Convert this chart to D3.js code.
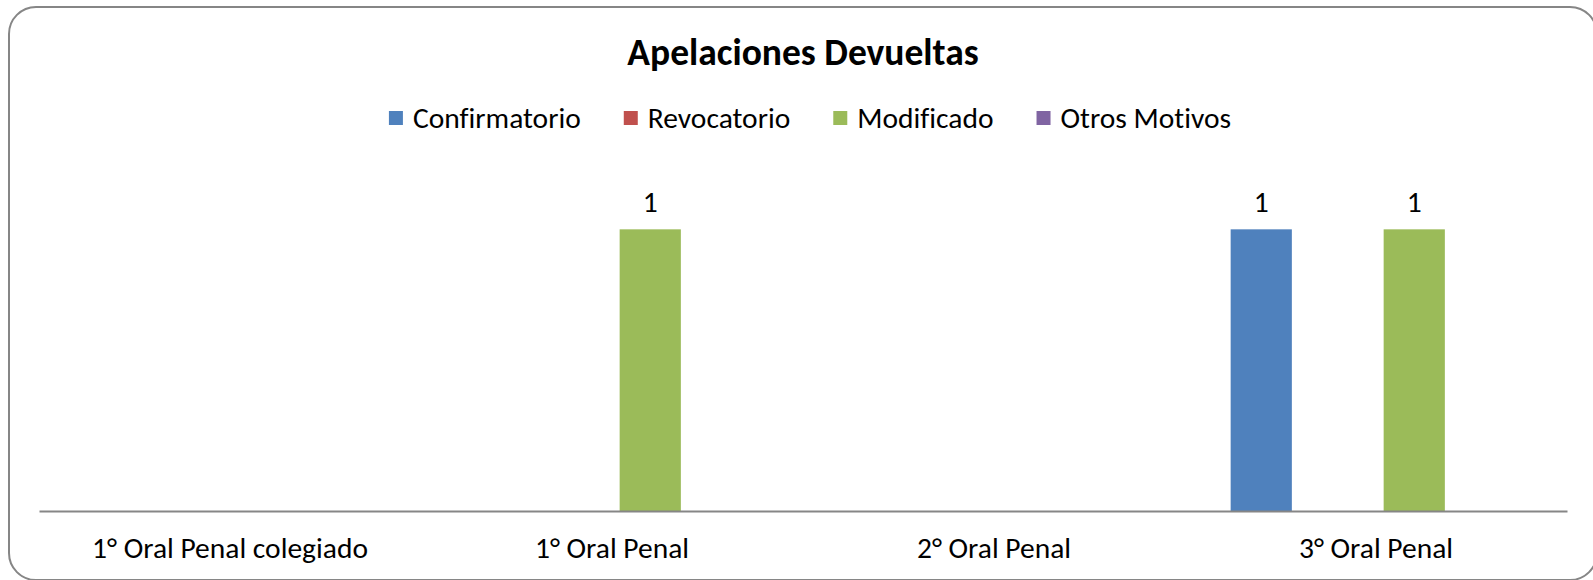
<!DOCTYPE html>
<html>
<head>
<meta charset="utf-8">
<script src="https://cdn.jsdelivr.net/npm/d3@7"></script>
<style>
  body { margin: 0; background: #fff; }
  text { font-family: Carlito, Calibri, Lato, sans-serif; fill: #000; font-variant-ligatures: none; }
</style>
</head>
<body>
<div id="chart"></div>
<script>
// data
var categories = ['1° Oral Penal colegiado', '1° Oral Penal', '2° Oral Penal', '3° Oral Penal'];
var seriesNames = ['Confirmatorio', 'Revocatorio', 'Modificado', 'Otros Motivos'];
var confirmatorio = [null, null, null, 1];
var revocatorio = [null, null, null, null];
var modificado = [null, 1, null, 1];
var otrosMotivos = [null, null, null, null];
var colors = ['#4F81BD', '#C0504D', '#9BBB59', '#8064A2'];
var title = 'Apelaciones Devueltas';

var W = 1593, H = 580;
var plot = {left: 39, right: 1567, top: 173, bottom: 511};

var svg = d3.select('#chart').append('svg')
    .attr('width', W)
    .attr('height', H);

// outer frame
svg.append('rect')
    .attr('x', 9).attr('y', 7)
    .attr('width', 1588).attr('height', 573)
    .attr('rx', 27).attr('ry', 27)
    .attr('fill', '#fff')
    .attr('stroke', '#868686')
    .attr('stroke-width', 2);

svg.append('text')
    .attr('x', 803).attr('y', 52)
    .attr('text-anchor', 'middle')
    .attr('dominant-baseline', 'central')
    .style('font-size', '37.5px')
    .style('font-weight', 'bold')
    .text(title);

var values = [confirmatorio, revocatorio, modificado, otrosMotivos];
var rows = [];
categories.forEach(function(c, i) {
    seriesNames.forEach(function(s, j) {
        rows.push({cat: c, series: s, idx: j, value: values[j][i]});
    });
});

var x0 = d3.scaleBand().domain(categories).range([plot.left, plot.right]).padding(0);
var gap = x0.step() * 0.239;
var x1 = d3.scaleBand().domain(seriesNames)
    .range([gap / 2, x0.step() - gap / 2])
    .paddingInner(0.2).paddingOuter(0);
var y = d3.scaleLinear().domain([0, 1.2]).range([plot.bottom, plot.top]);

var bars = rows.filter(function(d) { return d.value != null; });

svg.append('g').selectAll('rect').data(bars).enter().append('rect')
    .attr('x', function(d) { return x0(d.cat) + x1(d.series); })
    .attr('y', function(d) { return y(d.value); })
    .attr('width', x1.bandwidth())
    .attr('height', function(d) { return y(0) - y(d.value); })
    .attr('fill', function(d) { return colors[d.idx]; });

svg.append('g').selectAll('text').data(bars).enter().append('text')
    .attr('x', function(d) { return x0(d.cat) + x1(d.series) + x1.bandwidth() / 2; })
    .attr('y', function(d) { return y(d.value) - 27; })
    .attr('text-anchor', 'middle')
    .attr('dominant-baseline', 'central')
    .style('font-size', '29.5px')
    .text(function(d) { return d.value; });

// category axis
var xAxis = svg.append('g')
    .attr('transform', 'translate(0,' + plot.bottom + ')')
    .call(d3.axisBottom(x0).tickSize(0).tickPadding(0));
xAxis.attr('font-family', null);
xAxis.select('.domain').attr('stroke', '#868686').attr('stroke-width', 2);
xAxis.selectAll('text')
    .style('font-size', '29.5px')
    .attr('y', 37)
    .attr('dy', null)
    .attr('dominant-baseline', 'central');

// legend
var legend = svg.append('g').attr('class', 'legend');
var items = legend.selectAll('g').data(seriesNames).enter().append('g');
items.append('rect')
    .attr('width', 14).attr('height', 14)
    .attr('y', -7)
    .attr('fill', function(d, i) { return colors[i]; });
items.append('text')
    .attr('x', 24)
    .attr('dominant-baseline', 'central')
    .style('font-size', '29.5px')
    .text(function(d) { return d; });
var pos = 0;
items.each(function() {
    var g = d3.select(this);
    var w = 24 + g.select('text').node().getComputedTextLength();
    g.attr('transform', 'translate(' + pos + ',0)');
    pos += w + 43;
});
pos -= 43;
legend.attr('transform', 'translate(' + (810 - pos / 2) + ',118)');
</script>
</body>
</html>
